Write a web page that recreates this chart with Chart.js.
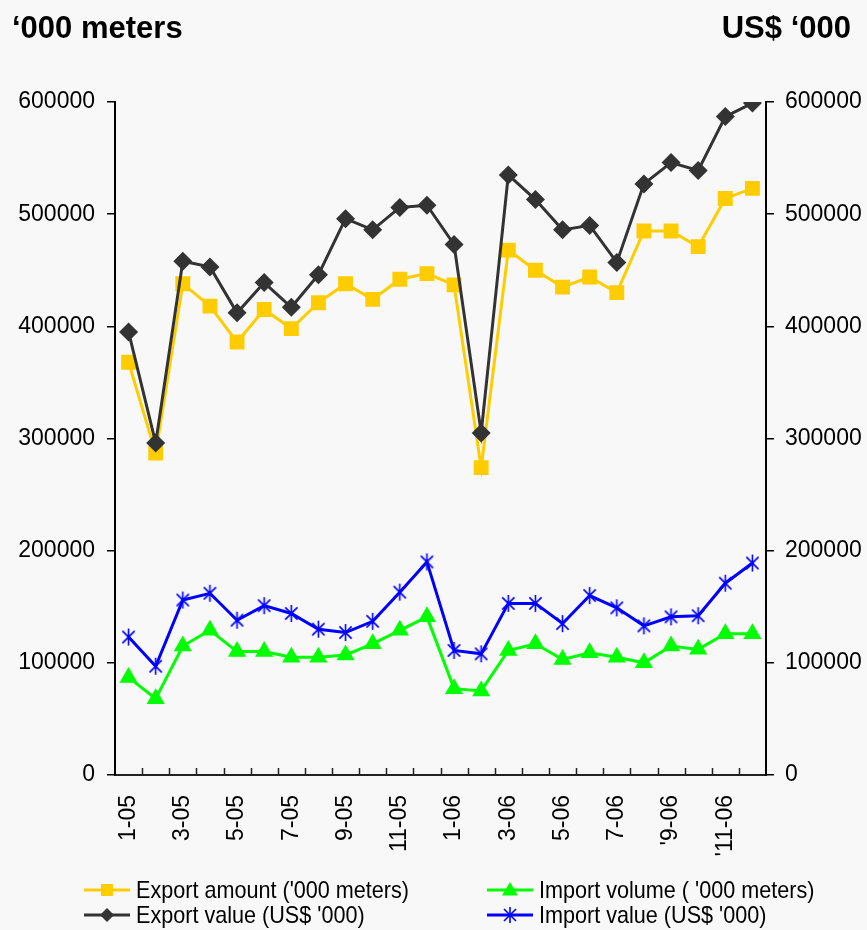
<!DOCTYPE html>
<html>
<head>
<meta charset="utf-8">
<script src="https://cdn.jsdelivr.net/npm/chart.js@4/dist/chart.umd.min.js"></script>
<style>
  html, body { margin: 0; padding: 0; background: #f8f8f8; }
  #wrap { position: relative; width: 867px; height: 930px; overflow: hidden; background: #f8f8f8; }
  #c { position: absolute; left: 0; top: 0; }
  .title { position: absolute; font-family: "Liberation Sans", Arial, sans-serif; font-weight: bold; font-size: 31px; line-height: 31px; color: #000; white-space: nowrap; }
  .leg { position: absolute; height: 26px; white-space: nowrap; }
  .leg svg { position: absolute; left: 0; top: 0; }
  .leg span { position: absolute; top: 0; font-family: "Liberation Sans", Arial, sans-serif; font-size: 24px; line-height: 26px; color: #000; transform: scaleX(0.9); transform-origin: left center; }
</style>
</head>
<body>
<div id="wrap">
  <canvas id="c" width="867" height="930"></canvas>
  <div class="title" style="left:12px; top:12px;">‘000 meters</div>
  <div class="title" style="right:16px; top:12px;">US$ ‘000</div>
  <div id="legend"></div>
</div>
<script>
// ---- Data ----
const categories = ['1-05','2-05','3-05','4-05','5-05','6-05','7-05','8-05','9-05','10-05','11-05','12-05',
                    '1-06','2-06','3-06','4-06','5-06','6-06','7-06','8-06','9-06','10-06','11-06','12-06'];
const xTickLabels = ['1-05','3-05','5-05','7-05','9-05','11-05','1-06','3-06','5-06','7-06',"'9-06","'11-06"];
const yTicks = [0, 100000, 200000, 300000, 400000, 500000, 600000];

const exportAmount = [368000, 287000, 438000, 418000, 386000, 415000, 398000, 421000, 438000, 424000, 442000, 447000,
                      437000, 274000, 468000, 450000, 435000, 444000, 430000, 485000, 485000, 471000, 514000, 523000];
const exportValue  = [395000, 296000, 458000, 453000, 412000, 439000, 417000, 446000, 496000, 486000, 506000, 508000,
                      473000, 305000, 535000, 513000, 486000, 490000, 457000, 527000, 546000, 539000, 587000, 599000];
const importVolume = [87000, 68000, 115000, 129000, 110000, 110000, 105000, 105000, 107000, 117000, 129000, 141000,
                      77000, 75000, 111000, 117000, 103000, 109000, 105000, 100000, 115000, 112000, 126000, 126000];
const importValue  = [123000, 97000, 156000, 162000, 138000, 151000, 144000, 130000, 127000, 137000, 163000, 190000,
                      111000, 108000, 153000, 153000, 135000, 160000, 149000, 133000, 141000, 142000, 171000, 189000];

const seriesNames = {
  exportAmount: "Export amount ('000 meters)",
  importVolume: "Import volume ( '000 meters)",
  exportValue: "Export value (US$ '000)",
  importValue: "Import value (US$ '000)"
};

const COL_YELLOW = '#FFCC00', COL_DARK = '#333333', COL_GREEN = '#00FF00', COL_BLUE = '#0000FF';

// star marker (X with vertical bar)
function makeStar(color, size) {
  const cv = document.createElement('canvas');
  cv.width = size; cv.height = size;
  const g = cv.getContext('2d');
  const c = size / 2, r = size / 2 - 1;
  g.strokeStyle = color; g.lineWidth = 1.6;
  g.beginPath();
  g.moveTo(c, c - r); g.lineTo(c, c + r);
  const d = r * 0.72;
  g.moveTo(c - d, c - d); g.lineTo(c + d, c + d);
  g.moveTo(c - d, c + d); g.lineTo(c + d, c - d);
  g.stroke();
  return cv;
}
const starImg = makeStar(COL_BLUE, 19);

const FONT = { family: "'Liberation Sans', Arial, sans-serif", size: 23 };

const innerTicks = {
  id: 'innerTicks',
  afterDraw(chart) {
    const x = chart.scales.x, ctx = chart.ctx;
    const n = categories.length;
    const step = (x.right - x.left) / n;
    ctx.save();
    ctx.strokeStyle = '#222';
    ctx.lineWidth = 1.5;
    ctx.beginPath();
    for (let i = 1; i < n; i++) {
      const px = Math.round(x.left + i * step) + 0.5;
      ctx.moveTo(px, x.top);
      ctx.lineTo(px, x.top - 7);
    }
    ctx.stroke();
    ctx.restore();
  }
};

new Chart(document.getElementById('c'), {
  type: 'line',
  data: {
    labels: categories,
    datasets: [
      { label: seriesNames.exportValue, data: exportValue, yAxisID: 'y1', borderColor: COL_DARK, backgroundColor: COL_DARK,
        borderWidth: 3, pointStyle: 'rectRot', pointRadius: 9.5, pointBorderWidth: 0, tension: 0 },
      { label: seriesNames.exportAmount, data: exportAmount, yAxisID: 'y', borderColor: COL_YELLOW, backgroundColor: COL_YELLOW,
        borderWidth: 3, pointStyle: 'rect', pointRadius: 10.5, pointBorderWidth: 0, tension: 0 },
      { label: seriesNames.importValue, data: importValue, yAxisID: 'y1', borderColor: COL_BLUE, backgroundColor: COL_BLUE,
        borderWidth: 3, pointStyle: starImg, pointRadius: 9, tension: 0 },
      { label: seriesNames.importVolume, data: importVolume, yAxisID: 'y', borderColor: COL_GREEN, backgroundColor: COL_GREEN,
        borderWidth: 3, pointStyle: 'triangle', pointRadius: 10.5, pointBorderWidth: 0, tension: 0 }
    ]
  },
  options: {
    responsive: false,
    animation: false,
    devicePixelRatio: 1,
    layout: { padding: { left: 0, right: 0, top: 102, bottom: 55 } },
    plugins: { legend: { display: false }, tooltip: { enabled: false } },
    scales: {
      x: {
        offset: true,
        grid: { display: false, drawTicks: false },
        border: { display: true, color: '#222', width: 2 },
        ticks: {
          autoSkip: false, minRotation: 90, maxRotation: 90, padding: 20,
          color: '#000', font: FONT,
          callback: (v, i) => (i % 2 === 0 ? xTickLabels[i / 2] : '')
        },
        afterFit: s => { s.height = 100; }
      },
      y: {
        position: 'left', min: 0, max: 600000,
        afterBuildTicks: s => { s.ticks = yTicks.map(v => ({ value: v })); },
        grid: { drawOnChartArea: false, drawTicks: true, tickLength: 8, color: '#000', lineWidth: 1.5 },
        border: { display: true, color: '#000', width: 2 },
        ticks: { color: '#000', font: FONT, padding: 12, callback: v => String(v) },
        afterFit: s => { s.width = 115; }
      },
      y1: {
        position: 'right', min: 0, max: 600000,
        afterBuildTicks: s => { s.ticks = yTicks.map(v => ({ value: v })); },
        grid: { drawOnChartArea: false, drawTicks: true, tickLength: 8, color: '#000', lineWidth: 1.5 },
        border: { display: true, color: '#000', width: 2 },
        ticks: { color: '#000', font: FONT, padding: 11, callback: v => String(v) },
        afterFit: s => { s.width = 101; }
      }
    }
  },
  plugins: [innerTicks]
});

// ---- HTML legend ----
const legendItems = [
  { name: seriesNames.exportAmount, color: COL_YELLOW, marker: 'square', left: 84, top: 877 },
  { name: seriesNames.importVolume, color: COL_GREEN, marker: 'triangle', left: 487, top: 877 },
  { name: seriesNames.exportValue, color: COL_DARK, marker: 'diamond', left: 84, top: 902 },
  { name: seriesNames.importValue, color: COL_BLUE, marker: 'star', left: 487, top: 902 }
];
function markerSvg(m, color) {
  const cx = 23, cy = 13;
  let shape = '';
  if (m === 'square') shape = `<rect x="${cx-6}" y="${cy-6}" width="12" height="12" fill="${color}"/>`;
  if (m === 'diamond') shape = `<polygon points="${cx},${cy-7} ${cx+7},${cy} ${cx},${cy+7} ${cx-7},${cy}" fill="${color}"/>`;
  if (m === 'triangle') shape = `<polygon points="${cx},${cy-8} ${cx+8},${cy+5.5} ${cx-8},${cy+5.5}" fill="${color}"/>`;
  if (m === 'star') shape = `<g stroke="${color}" stroke-width="1.6"><line x1="${cx}" y1="${cy-8}" x2="${cx}" y2="${cy+8}"/>` +
      `<line x1="${cx-6}" y1="${cy-6}" x2="${cx+6}" y2="${cy+6}"/><line x1="${cx-6}" y1="${cy+6}" x2="${cx+6}" y2="${cy-6}"/></g>`;
  return `<svg width="46" height="26" viewBox="0 0 46 26"><line x1="0" y1="${cy}" x2="46" y2="${cy}" stroke="${color}" stroke-width="3"/>${shape}</svg>`;
}
const lg = document.getElementById('legend');
legendItems.forEach(it => {
  const d = document.createElement('div');
  d.className = 'leg';
  d.style.left = it.left + 'px';
  d.style.top = it.top + 'px';
  d.innerHTML = markerSvg(it.marker, it.color) + `<span style="left:52px">${it.name.replace(/'/g, '&#39;')}</span>`;
  lg.appendChild(d);
});
</script>
</body>
</html>
